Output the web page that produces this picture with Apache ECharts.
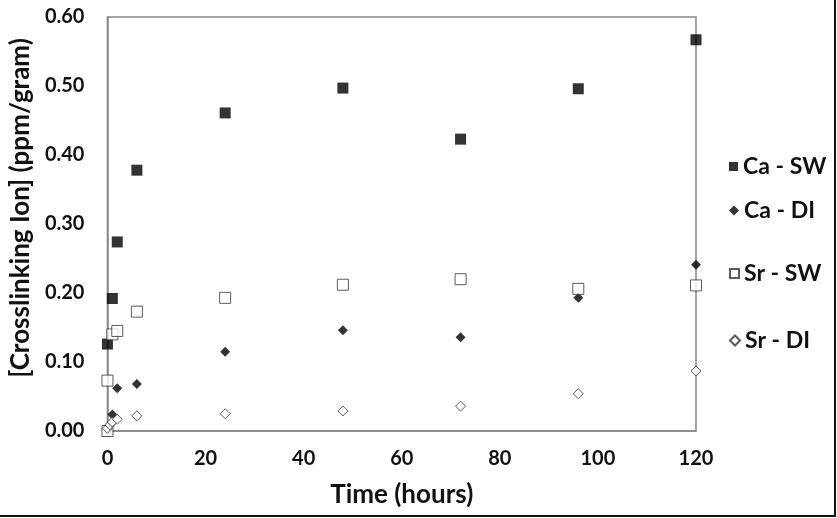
<!DOCTYPE html>
<html><head><meta charset="utf-8">
<script src="https://cdn.jsdelivr.net/npm/echarts@6/dist/echarts.min.js"></script>
<style>html,body{margin:0;padding:0;background:#fff}#c{width:837px;height:518px}</style>
</head><body><div id="c"></div>
<script>
const xTicks = [0, 20, 40, 60, 80, 100, 120];
const yTicks = [0, 0.1, 0.2, 0.3, 0.4, 0.5, 0.6];
const caSwX = [0, 1, 2, 6, 24, 48, 72, 96, 120];
const caSwY = [0.126, 0.192, 0.274, 0.378, 0.461, 0.497, 0.423, 0.496, 0.567];
const caDiX = [0, 1, 2, 6, 24, 48, 72, 96, 120];
const caDiY = [0.003, 0.024, 0.062, 0.068, 0.115, 0.146, 0.136, 0.193, 0.241];
const srSwX = [0, 0, 1, 2, 6, 24, 48, 72, 96, 120];
const srSwY = [0.000, 0.073, 0.140, 0.145, 0.173, 0.193, 0.212, 0.220, 0.206, 0.211];
const srDiX = [0, 0.5, 1, 2, 6, 24, 48, 72, 96, 120];
const srDiY = [0.004, 0.009, 0.013, 0.017, 0.022, 0.025, 0.029, 0.036, 0.054, 0.087];
const names = ['Ca - SW', 'Ca - DI', 'Sr - SW', 'Sr - DI'];

const pts = (xs, ys) => xs.map((x, i) => [x, ys[i]]);
const F = 'Lato, "Liberation Sans", sans-serif';
const chart = echarts.init(document.getElementById('c'));
const legendTops = [150, 194, 257, 324];
const legendIcons = ['rect', 'diamond', 'rect', 'diamond'];
chart.setOption({
  animation: false,
  backgroundColor: '#fff',
  grid: { left: 106, right: 141, top: 17, bottom: 87, show: true, borderColor: '#888', borderWidth: 1.5 },
  xAxis: {
    type: 'value', min: 0, max: 120, interval: 20,
    name: 'Time (hours)', nameLocation: 'middle', nameGap: 51,
    nameTextStyle: { fontFamily: F, fontWeight: 'bold', fontSize: 26, color: '#111' },
    axisLine: { lineStyle: { color: '#888', width: 1.5 } },
    axisTick: { show: false }, splitLine: { show: false },
    axisLabel: { fontFamily: F, fontWeight: 'bold', fontSize: 20, color: '#111', margin: 18 }
  },
  yAxis: {
    type: 'value', min: 0, max: 0.6, interval: 0.1,
    name: '[Crosslinking Ion] (ppm/gram)', nameLocation: 'middle', nameGap: 72,
    nameTextStyle: { fontFamily: F, fontWeight: 'bold', fontSize: 26, color: '#111', padding: [0, 0, 0, 32] },
    axisLine: { lineStyle: { color: '#888', width: 1.5 } },
    axisTick: { show: false }, splitLine: { show: false },
    axisLabel: { fontFamily: F, fontWeight: 'bold', fontSize: 20, color: '#111', margin: 23,
      formatter: v => v.toFixed(2) }
  },
  legend: names.map((n, i) => ({
    data: [{ name: n, icon: legendIcons[i] }], orient: 'vertical', left: 724, top: legendTops[i],
    itemWidth: i % 2 ? 10 : 9, itemHeight: i % 2 ? 10 : 9, itemGap: 0,
    textStyle: { fontFamily: F, fontWeight: 'bold', fontSize: 23, color: '#111' }
  })),
  series: [
    { name: names[0], type: 'scatter', symbol: 'rect', symbolSize: 11, data: pts(caSwX, caSwY),
      itemStyle: { color: '#000' } },
    { name: names[1], type: 'scatter', symbol: 'diamond', symbolSize: 10, data: pts(caDiX, caDiY),
      itemStyle: { color: '#000' } },
    { name: names[2], type: 'scatter', symbol: 'rect', symbolSize: 11, data: pts(srSwX, srSwY),
      itemStyle: { color: '#fff', borderColor: '#333', borderWidth: 1 } },
    { name: names[3], type: 'scatter', symbol: 'diamond', symbolSize: 10, data: pts(srDiX, srDiY),
      itemStyle: { color: '#fff', borderColor: '#333', borderWidth: 1 } }
  ],
  graphic: [
    { type: 'line', shape: { x1: 835, y1: 0, x2: 835, y2: 517 }, style: { stroke: '#111', lineWidth: 2 } },
    { type: 'line', shape: { x1: 0, y1: 516, x2: 836, y2: 516 }, style: { stroke: '#111', lineWidth: 2 } }
  ]
});
</script></body></html>
